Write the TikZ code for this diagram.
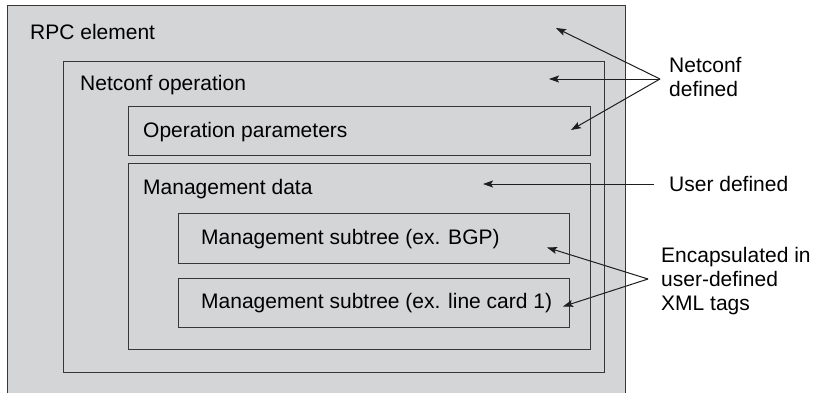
\documentclass[tikz,border=0pt]{standalone}
\usepackage{fontspec}
\setmainfont{Liberation Sans}
\usetikzlibrary{arrows.meta}
\definecolor{boxfill}{RGB}{212,213,215}
\definecolor{linec}{RGB}{55,55,55}
\definecolor{arrc}{RGB}{30,30,30}
\newcommand{\lbfont}{\fontsize{21pt}{24.3pt}\selectfont}
\tikzset{
  box/.style={draw=linec, fill=boxfill, line width=1.4pt, inner sep=0pt, anchor=north west, rectangle},
  lbl/.style={anchor=base west, inner sep=0pt, font=\lbfont, align=left},
  arr/.style={draw=arrc, line width=1pt, -{Stealth[length=10pt,width=7pt,inset=2pt]}},
}
\begin{document}
\begin{tikzpicture}[x=1pt,y=-1pt]
\clip (0,0) rectangle (816,392);
\fill[white] (0,0) rectangle (816,392);
% boxes
\node[box, minimum width=618pt, minimum height=400pt] (rpc) at (7,5) {};
\node[box, minimum width=541pt, minimum height=311pt] (netop) at (63,61) {};
\node[box, minimum width=462pt, minimum height=49pt] (oppar) at (128,106) {};
\node[box, minimum width=462pt, minimum height=186pt] (mgmt) at (128,163) {};
\node[box, minimum width=391pt, minimum height=50pt] (sub1) at (178,213) {};
\node[box, minimum width=391pt, minimum height=49pt] (sub2) at (178,278) {};
% box texts
\node[lbl] (trpc) at (30,39.5) {RPC element};
\node[lbl] (tnetop) at (80,90.5) {Netconf operation};
\node[lbl] (toppar) at (143,137.5) {Operation parameters};
\node[lbl] (tmgmt) at (143,194) {Management data};
\node[lbl] (tsub1) at (201,244.5) {Management subtree (ex. BGP)};
\node[lbl] (tsub2) at (201,308.5) {Management subtree (ex. line card 1)};
% right labels (base anchor = last line)
\node[lbl] (lnc) at (669,96.7) {Netconf\\defined};
\node[lbl] (lud) at (669,191.7) {User defined};
\node[lbl] (lenc) at (661,310.9) {Encapsulated in\\user-defined\\XML tags};
% arrow points
\coordinate (nc) at (660,79);
\coordinate (t1) at (556,28);
\coordinate (t2) at (549,79);
\coordinate (t3) at (571,130);
\coordinate (u0) at (654,184);
\coordinate (u1) at (483,184);
\coordinate (e0) at (648,279);
\coordinate (e1) at (547,247.5);
\coordinate (e2) at (563,306.5);
% arrows
\draw[arr] (nc) -- (t1);
\draw[arr] (nc) -- (t2);
\draw[arr] (nc) -- (t3);
\draw[arr] (u0) -- (u1);
\draw[arr] (e0) -- (e1);
\draw[arr] (e0) -- (e2);
\end{tikzpicture}
\end{document}
